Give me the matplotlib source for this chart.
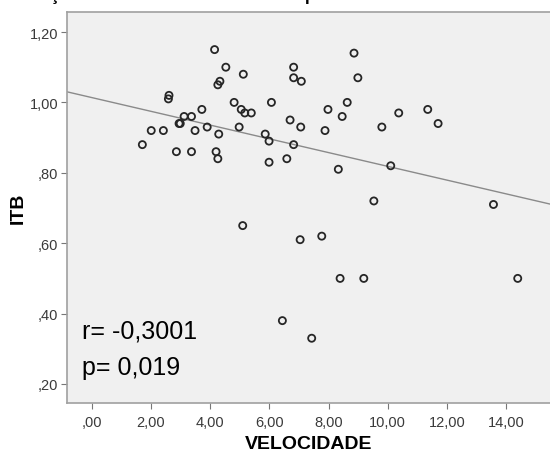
import matplotlib
matplotlib.use("Agg")
import matplotlib.pyplot as plt
from matplotlib.ticker import FuncFormatter
import numpy as np

# valores (VELOCIDADE x ITB)
velocidade = [4.15, 4.53, 5.12, 4.33, 4.26, 6.82, 6.82, 7.08, 2.61, 2.59,
              4.81, 6.07, 3.72, 5.05, 5.17, 5.39, 3.12, 3.37, 6.70, 2.95,
              2.99, 3.90, 4.98, 7.06, 2.01, 2.42, 3.49, 4.29, 5.86, 5.99,
              6.82, 1.71, 2.86, 3.37, 4.20, 4.26, 5.99, 6.59, 8.86, 8.99,
              8.63, 7.98, 11.35, 10.37, 8.46, 11.70, 9.80, 7.88, 10.10, 8.33,
              9.53, 13.57, 7.77, 7.04, 8.39, 9.19, 14.39, 7.43, 5.10, 6.44]
itb = [1.15, 1.10, 1.08, 1.06, 1.05, 1.10, 1.07, 1.06, 1.02, 1.01,
       1.00, 1.00, 0.98, 0.98, 0.97, 0.97, 0.96, 0.96, 0.95, 0.94,
       0.94, 0.93, 0.93, 0.93, 0.92, 0.92, 0.92, 0.91, 0.91, 0.89,
       0.88, 0.88, 0.86, 0.86, 0.86, 0.84, 0.83, 0.84, 1.14, 1.07,
       1.00, 0.98, 0.98, 0.97, 0.96, 0.94, 0.93, 0.92, 0.82, 0.81,
       0.72, 0.71, 0.62, 0.61, 0.50, 0.50, 0.50, 0.33, 0.65, 0.38]
x_ticks = [0, 2, 4, 6, 8, 10, 12, 14]
y_ticks = [0.2, 0.4, 0.6, 0.8, 1.0, 1.2]
texto_r = "r= -0,3001"
texto_p = "p= 0,019"
titulo = "Correlação entre ITB e Velocidade de pico"

plt.rcParams['font.family'] = ['Liberation Sans', 'DejaVu Sans']


def virgula(v, pos):
    s = f"{v:.2f}".replace('.', ',')
    if s.startswith('0,'):
        s = s[1:]
    return s


fig = plt.figure(figsize=(5.5, 4.52), dpi=100)
ax = fig.add_axes([0.1213, 0.1062, 0.8787, 0.8644])
ax.set_facecolor('#F0F0F0')

x = np.array(velocidade)
y = np.array(itb)
a, b = np.polyfit(x, y, 1)
xl = np.array([-1, 16])
ax.plot(xl, a * xl + b, color='#8a8a8a', lw=1.0, zorder=2)
ax.scatter(x, y, s=26, facecolors='none', edgecolors='#262626',
           linewidths=1.3, zorder=3)

ax.set_xlim(-0.845, 15.48)
ax.set_ylim(0.146, 1.256)
ax.set_xticks(x_ticks)
ax.set_yticks(y_ticks)
ax.xaxis.set_major_formatter(FuncFormatter(virgula))
ax.yaxis.set_major_formatter(FuncFormatter(virgula))
ax.tick_params(length=4, width=0.8, color='#777777', labelsize=10.5,
               labelcolor='#3a3a3a', pad=2)
ax.tick_params(axis='x', pad=5)

for s in ['left', 'bottom', 'top']:
    ax.spines[s].set_color('#a0a0a0')
    ax.spines[s].set_linewidth(1.2)
ax.spines['right'].set_visible(False)

ax.set_xlabel("VELOCIDADE", fontsize=14, fontweight='bold')
ax.set_ylabel("ITB", fontsize=14, fontweight='bold')
ax.xaxis.set_label_coords(0.5, -0.116)
ax.yaxis.set_label_coords(-0.10, 0.5)
ax.xaxis.label.set_va('baseline')
ax.yaxis.label.set_va('center')

ax.text(0.031, 0.168, texto_r, transform=ax.transAxes, fontsize=18,
        color='black', va='baseline')
ax.text(0.031, 0.074, texto_p, transform=ax.transAxes, fontsize=18,
        color='black', va='baseline')

# título cortado no topo: só aparecem as descendentes
fig.text(-12 / 550, 1.0, titulo, fontsize=12.7, fontweight='bold',
         va='baseline', ha='left')

fig.savefig("out.png", dpi=100)
